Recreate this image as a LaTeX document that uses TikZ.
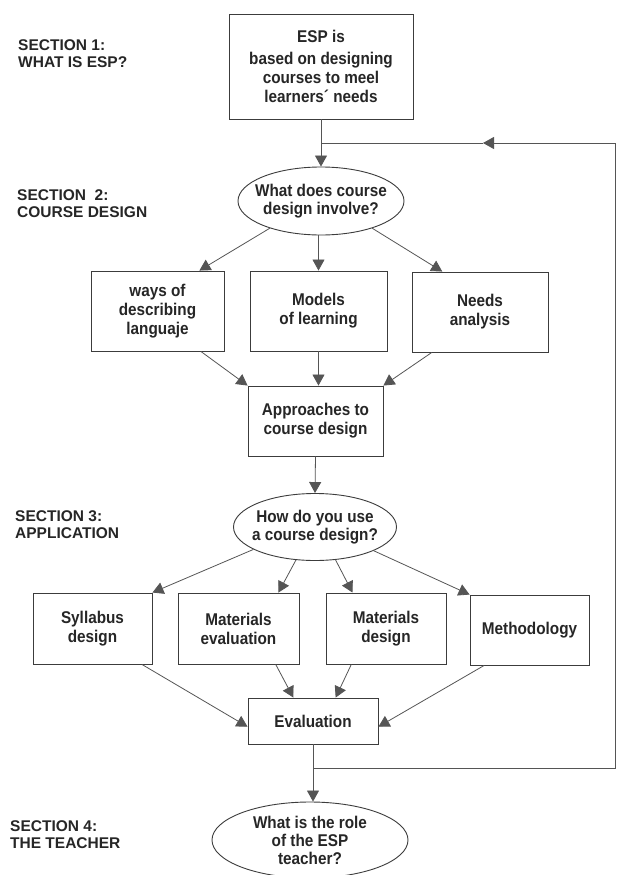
\documentclass[tikz,border=0pt]{standalone}
\usepackage{fontspec}
\setmainfont{Liberation Sans}
\newfontfamily\boxfont{Liberation Sans}[FakeStretch=0.9]
\usetikzlibrary{arrows.meta,shapes.geometric}
\definecolor{linegray}{HTML}{555555}
\definecolor{inkgray}{HTML}{262626}

\begin{document}
        \begin{tikzpicture}[x=1pt,y=-1pt,
            box/.style={draw=inkgray!90, line width=0.9pt, rectangle, align=center, inner sep=0pt, text=inkgray, font=\boxfont\bfseries\fontsize{17}{19}\selectfont},
            question/.style={draw=inkgray!90, line width=0.9pt, ellipse, align=center, inner xsep=-14pt, inner ysep=-4pt, text=inkgray, font=\boxfont\bfseries\fontsize{17}{18}\selectfont},
            section/.style={anchor=west, align=left, inner sep=0pt, text=inkgray, font=\bfseries\fontsize{15.5}{17}\selectfont},
            link/.style={draw=linegray, line width=0.8pt},
            flow/.style={link, -{Triangle[length=11pt,width=12pt]}}]

            \fill[white] (0,0) rectangle (616,875);
            \useasboundingbox (0,0) rectangle (616,875);

            \def\xr{615}

            \node[section] (s1) at (18,53.5) {SECTION 1:\\WHAT IS ESP?};
            \node[section] (s2) at (17,203.5) {SECTION\ \ 2:\\COURSE DESIGN};
            \node[section] (s3) at (15,525) {SECTION 3:\\APPLICATION};
            \node[section] (s4) at (10,835) {SECTION 4:\\THE TEACHER};

            \node[box, minimum width=184pt, minimum height=105pt] (esp) at (321,66.5) {ESP is\\[3pt]based on designing\\courses to meel\\learners´ needs};
            \node[question, minimum width=166pt, minimum height=68pt] (course) at (321,201) {What does course\\design involve?};

            \node[box, minimum width=133pt, minimum height=80pt] (lang) at (157.5,311) {ways of\\describing\\languaje};
            \node[box, minimum width=137pt, minimum height=80pt] (models) at (318.5,311) {Models\\of learning};
            \node[box, minimum width=136pt, minimum height=80pt] (needs) at (480,312) {Needs\\analysis};
            \node[box, minimum width=135pt, minimum height=70pt] (approach) at (315.5,421) {Approaches to\\course design};

            \node[question, minimum width=163pt, minimum height=67pt] (use) at (315,527) {How do you use\\a course design?};
            \node[box, minimum width=119pt, minimum height=71pt] (syllabus) at (92.5,628.5) {Syllabus\\design};
            \node[box, minimum width=121pt, minimum height=71pt] (mateval) at (238.5,628.5) {Materials\\evaluation};
            \node[box, minimum width=120pt, minimum height=71pt] (matdesign) at (386,628.5) {Materials\\design};
            \node[box, minimum width=119pt, minimum height=70pt] (method) at (529.5,630) {Methodology};
            \node[box, minimum width=130pt, minimum height=46pt] (eval) at (313,721) {Evaluation};

            \node[question, minimum width=196pt, minimum height=76pt] (teacher) at (310,840) {What is the role\\of the ESP\\teacher?};

            \coordinate (j1) at (321,143);
            \coordinate (m1) at (483,143);
            \coordinate (r1) at (\xr,143);
            \coordinate (r2) at (\xr,768);
            \coordinate (j2) at (313,768);

            \draw[flow] (esp.south) -- (course.north);
            \draw[flow] (j2) -- (r2) -- (r1) -- (m1);
            \draw[link] (m1) -- (j1);

            \draw[flow] (course.208) -- (lang.44);
            \draw[flow] (course.south -| models.north) -- (models.north);
            \draw[flow] (course.-28) -- (needs.133);
            \draw[flow] (lang.-43) -- (approach.north west);
            \draw[flow] (models.south) -- (models.south |- approach.north);
            \draw[flow] (needs.220) -- (approach.north east);
            \draw[flow] (approach.south) -- (use.north);

            \draw[flow] (use.200) -- (syllabus.north east);
            \draw[flow] (use.240) -- (mateval.42);
            \draw[flow] (use.-58) -- (matdesign.133);
            \draw[flow] (use.-22) -- (method.north west);
            \draw[flow] (syllabus.-36) -- (eval.185);
            \draw[flow] (mateval.-44) -- (eval.130);
            \draw[flow] (matdesign.226) -- (eval.46);
            \draw[flow] (method.218) -- (eval.-5);
            \draw[flow] (eval.south) -- (eval.south |- teacher.north);
        \end{tikzpicture}
\end{document}
